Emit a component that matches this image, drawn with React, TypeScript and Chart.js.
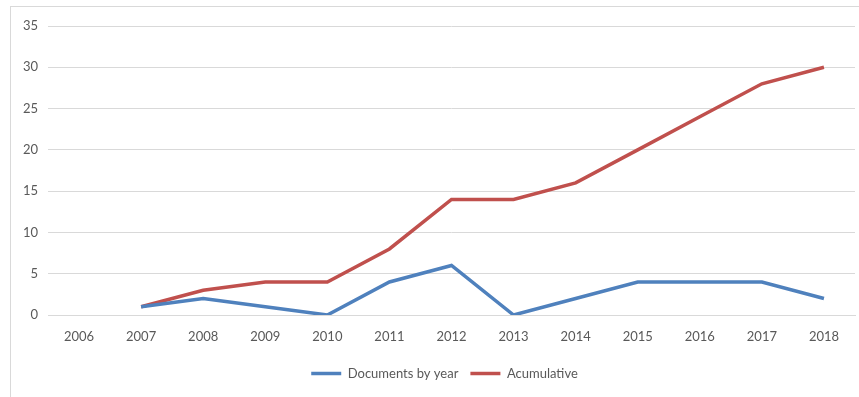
import React, { useEffect, useRef } from "react";
import { Chart, registerables } from "chart.js";

Chart.register(...registerables);

const years = ["2006", "2007", "2008", "2009", "2010", "2011", "2012", "2013", "2014", "2015", "2016", "2017", "2018"];
const documentsByYear = [null, 1, 2, 1, 0, 4, 6, 0, 2, 4, 4, 4, 2];
const acumulative = [null, 1, 3, 4, 4, 8, 14, 14, 16, 20, 24, 28, 30];

const FONT = "Lato, 'Open Sans', sans-serif";
const TEXT = "#595959";

const shiftLegend = {
  id: "shiftLegend",
  afterLayout(chart: any) {
    if (chart.legend) {
      chart.legend.left += 17;
      chart.legend.right += 17;
    }
  },
};

export default function App() {
  const ref = useRef<HTMLCanvasElement | null>(null);
  useEffect(() => {
    if (!ref.current) return;
    const chart = new Chart(ref.current, {
      type: "line",
      data: {
        labels: years,
        datasets: [
          {
            label: "Documents by year",
            data: documentsByYear,
            borderColor: "#4F81BD",
            backgroundColor: "#4F81BD",
            borderWidth: 3.5,
            pointRadius: 0,
            tension: 0,
            pointStyle: "line",
          },
          {
            label: "Acumulative",
            data: acumulative,
            borderColor: "#C0504D",
            backgroundColor: "#C0504D",
            borderWidth: 3.5,
            pointRadius: 0,
            tension: 0,
            pointStyle: "line",
          },
        ],
      },
      options: {
        animation: false,
        responsive: false,
        maintainAspectRatio: false,
        layout: { padding: { left: 0, right: 4, top: 26, bottom: 7 } },
        plugins: {
          tooltip: { enabled: false },
          legend: {
            position: "bottom",
            labels: {
              usePointStyle: true,
              pointStyleWidth: 30,
              boxHeight: 12,
              color: TEXT,
              font: { family: FONT, size: 13 },
              padding: 12,
            },
          },
        },
        scales: {
          x: {
            offset: true,
            grid: { display: false, drawTicks: false },
            border: { display: true, color: "#d9d9d9", width: 1 },
            ticks: { color: TEXT, font: { family: FONT, size: 13 }, padding: 14, maxRotation: 0, autoSkip: false },
            afterFit: (s: any) => { s.height = 40; },
          },
          y: {
            min: 0,
            max: 35,
            ticks: { stepSize: 5, color: TEXT, font: { family: FONT, size: 13 }, padding: 10 },
            grid: { color: "#d9d9d9", drawTicks: false, lineWidth: 1 },
            border: { display: false },
            afterFit: (s: any) => { s.width = 48; },
          },
        },
      },
      plugins: [shiftLegend],
    });
    return () => chart.destroy();
  }, []);
  return (
    <div style={{ position: "fixed", left: 0, top: 0, width: 859, height: 397, background: "#fff", overflow: "hidden" }}>
      <div style={{ position: "absolute", left: 10, top: 6, width: 880, height: 420, border: "1px solid #d9d9d9" }} />
      <canvas ref={ref} width={859} height={397} style={{ position: "absolute", left: 0, top: 0, width: 859, height: 397 }} />
    </div>
  );
}
